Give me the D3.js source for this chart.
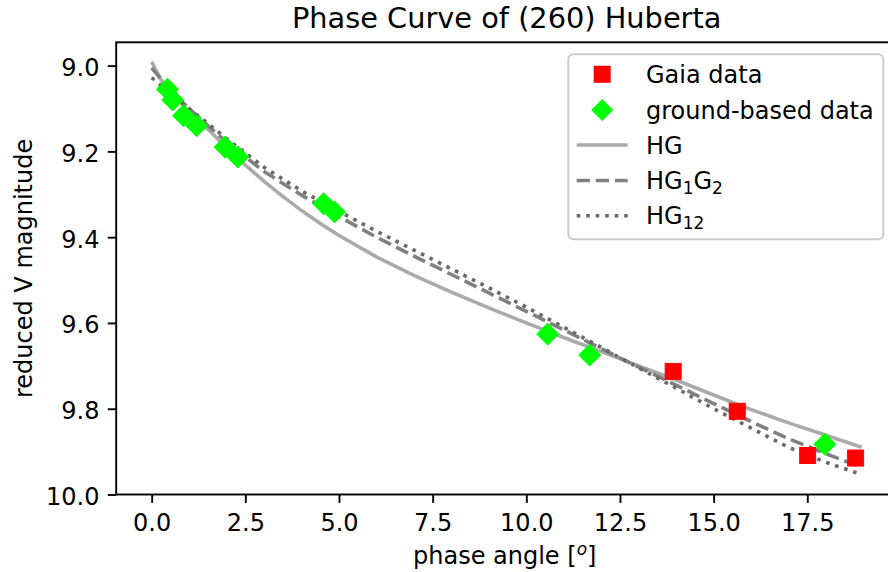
<!DOCTYPE html>
<html>
<head>
<meta charset="utf-8">
<script src="https://cdn.jsdelivr.net/npm/d3@7"></script>
<style>
  html, body { margin: 0; padding: 0; background: #fff; }
  svg { display: block; font-family: "DejaVu Sans", sans-serif; }
</style>
</head>
<body>
<svg id="chart" width="888" height="572"></svg>
<script>
// Gaia photometry (phase angle in degrees, reduced V magnitude)
const gaiaPhase = [13.92, 15.63, 17.51, 18.79];
const gaiaMag   = [9.713, 9.806, 9.909, 9.915];

// Ground-based photometry
const groundPhase = [0.42, 0.56, 0.85, 1.20, 1.96, 2.30, 4.59, 4.88, 10.57, 11.69, 17.97];
const groundMag   = [9.055, 9.080, 9.117, 9.140, 9.190, 9.213, 9.322, 9.341, 9.626, 9.675, 9.883];

// Fitted phase-curve models, sampled along phase angle
const hgPhase = [0, 0.25, 0.5, 1.0, 1.5, 2.0, 2.5, 3.0, 3.5, 4.0, 4.5, 5.0, 6.0, 7.0, 8.0, 9.0, 10.0, 11.0, 12.0, 13.0, 14.0, 15.0, 16.0, 17.0, 18.0, 18.95];
const hgMag   = [8.991, 9.033, 9.062, 9.108, 9.148, 9.192, 9.232, 9.270, 9.305, 9.338, 9.368, 9.396, 9.446, 9.489, 9.528, 9.565, 9.600, 9.634, 9.667, 9.700, 9.733, 9.768, 9.802, 9.833, 9.862, 9.890];

const hg1g2Phase = [0, 0.5, 1.0, 1.5, 2.0, 3.0, 4.0, 5.0, 6.0, 7.0, 8.0, 9.0, 10.0, 11.0, 12.0, 13.0, 14.0, 15.0, 16.0, 17.0, 18.0, 18.9];
const hg1g2Mag   = [9.005, 9.058, 9.100, 9.140, 9.178, 9.247, 9.302, 9.352, 9.400, 9.444, 9.487, 9.530, 9.573, 9.616, 9.660, 9.703, 9.745, 9.788, 9.830, 9.870, 9.905, 9.935];

const hg12Phase = [0, 0.5, 1.0, 1.5, 2.0, 3.0, 4.0, 5.0, 6.0, 7.0, 8.0, 9.0, 10.0, 11.0, 12.0, 13.0, 14.0, 15.0, 16.0, 17.0, 18.0, 18.9];
const hg12Mag   = [9.028, 9.065, 9.100, 9.135, 9.170, 9.237, 9.292, 9.340, 9.386, 9.430, 9.474, 9.518, 9.563, 9.610, 9.657, 9.705, 9.752, 9.800, 9.845, 9.890, 9.925, 9.952];

const xTicks = [0, 2.5, 5, 7.5, 10, 12.5, 15, 17.5];
const yTicks = [9.0, 9.2, 9.4, 9.6, 9.8, 10.0];

const titleText = "Phase Curve of (260) Huberta";
const yLabelText = "reduced V magnitude";

// Plot area
const L = 116.2, R = 897.2, T = 42.3, B = 494.5;
const svg = d3.select("#chart");

const x = d3.scaleLinear().domain([-0.947, 19.9]).range([L, R]);
const y = d3.scaleLinear().domain([8.9456, 10.0]).range([T, B]);

const FS = 24;

// Model curves
const line = d3.line().x(d => x(d[0])).y(d => y(d[1]));
const curves = [
  { p: hgPhase,    m: hgMag,    color: "#aaaaaa", dash: null },
  { p: hg1g2Phase, m: hg1g2Mag, color: "#808080", dash: "13.3,5.8" },
  { p: hg12Phase,  m: hg12Mag,  color: "#696969", dash: "3.6,5.9" }
];
const plot = svg.append("g");
curves.forEach(c => {
  plot.append("path")
    .datum(d3.zip(c.p, c.m))
    .attr("d", line)
    .attr("fill", "none")
    .attr("stroke", c.color)
    .attr("stroke-width", 3.6)
    .attr("stroke-dasharray", c.dash);
});

// Markers
const sq = 16, dia = 22;
plot.selectAll("rect.gaia")
  .data(d3.zip(gaiaPhase, gaiaMag))
  .join("rect")
  .attr("class", "gaia")
  .attr("x", d => x(d[0]) - sq / 2)
  .attr("y", d => y(d[1]) - sq / 2)
  .attr("width", sq).attr("height", sq)
  .attr("fill", "#ff0000").attr("stroke", "#ff0000").attr("stroke-width", 1);

const diamondPath = (cx, cy, s) =>
  `M${cx},${cy - s / 2}L${cx + s / 2},${cy}L${cx},${cy + s / 2}L${cx - s / 2},${cy}Z`;
plot.selectAll("path.ground")
  .data(d3.zip(groundPhase, groundMag))
  .join("path")
  .attr("class", "ground")
  .attr("d", d => diamondPath(x(d[0]), y(d[1]), dia))
  .attr("fill", "#00ff00").attr("stroke", "#00ff00").attr("stroke-width", 1);

// Axes
const xAxis = d3.axisBottom(x).tickValues(xTicks).tickFormat(d3.format(".1f"))
  .tickSize(8.4).tickPadding(5).tickSizeOuter(0);
const gx = svg.append("g").attr("transform", `translate(0,${B})`).call(xAxis);
gx.select(".domain").remove();
gx.selectAll(".tick line").attr("stroke", "#000").attr("stroke-width", 1.9);
gx.selectAll(".tick text").attr("font-size", FS).attr("fill", "#000")
  .attr("font-family", "DejaVu Sans").attr("dy", null).attr("y", 36);

const yAxis = d3.axisLeft(y).tickValues(yTicks).tickFormat(d3.format(".1f"))
  .tickSize(8.4).tickPadding(5).tickSizeOuter(0);
const gy = svg.append("g").attr("transform", `translate(${L},0)`).call(yAxis);
gy.select(".domain").remove();
gy.selectAll(".tick line").attr("stroke", "#000").attr("stroke-width", 1.9);
gy.selectAll(".tick text").attr("font-size", FS).attr("fill", "#000")
  .attr("font-family", "DejaVu Sans").attr("dy", null).attr("y", 10).attr("x", -16.8);

// Frame
svg.append("rect")
  .attr("x", L).attr("y", T).attr("width", R - L).attr("height", B - T)
  .attr("fill", "none").attr("stroke", "#000").attr("stroke-width", 1.9);

// Title and axis labels
svg.append("text")
  .attr("x", (L + R) / 2).attr("y", 28)
  .attr("text-anchor", "middle").attr("font-size", 28.8)
  .text(titleText);

const xl = svg.append("text")
  .attr("x", (L + R) / 2 - 2).attr("y", 564)
  .attr("text-anchor", "middle").attr("font-size", FS);
xl.append("tspan").text("phase angle [");
xl.append("tspan").attr("font-style", "italic").attr("font-size", 17).attr("dy", -9).text("o");
xl.append("tspan").attr("dy", 9).text("]");

svg.append("text")
  .attr("transform", `translate(32,${(T + B) / 2}) rotate(-90)`)
  .attr("text-anchor", "middle").attr("font-size", FS)
  .text(yLabelText);

// Legend
const lg = svg.append("g");
lg.append("rect")
  .attr("x", 568.3).attr("y", 54.3).attr("width", 315).attr("height", 185).attr("rx", 5)
  .attr("fill", "#fff").attr("fill-opacity", 0.8)
  .attr("stroke", "#cccccc").attr("stroke-width", 2);

const rowY = [74.3, 110, 145, 180.5, 215.7];
const hx0 = 576.7, hx1 = 627.7, hxc = (hx0 + hx1) / 2, tx = 646;

lg.append("rect").attr("x", hxc - 8.5).attr("y", rowY[0] - 8.5).attr("width", 17).attr("height", 17)
  .attr("fill", "#ff0000");
lg.append("path").attr("d", diamondPath(hxc, rowY[1], 22)).attr("fill", "#00ff00");
curves.forEach((c, i) => {
  lg.append("line")
    .attr("x1", hx0).attr("x2", hx1).attr("y1", rowY[i + 2]).attr("y2", rowY[i + 2])
    .attr("stroke", c.color).attr("stroke-width", 3.6).attr("stroke-dasharray", c.dash);
});

const labels = [
  [["Gaia data", 0]],
  [["ground-based data", 0]],
  [["HG", 0]],
  [["HG", 0], ["1", 1], ["G", 0], ["2", 1]],
  [["HG", 0], ["12", 1]]
];
labels.forEach((parts, i) => {
  const t = lg.append("text").attr("x", tx).attr("y", rowY[i] + 8.7).attr("font-size", FS);
  let prevSub = 0;
  parts.forEach(([s, sub]) => {
    const ts = t.append("tspan").text(s);
    if (sub) ts.attr("font-size", 17);
    const dy = (sub ? 5 : 0) - (prevSub ? 5 : 0);
    if (dy) ts.attr("dy", dy);
    prevSub = sub;
  });
});
</script>
</body>
</html>
